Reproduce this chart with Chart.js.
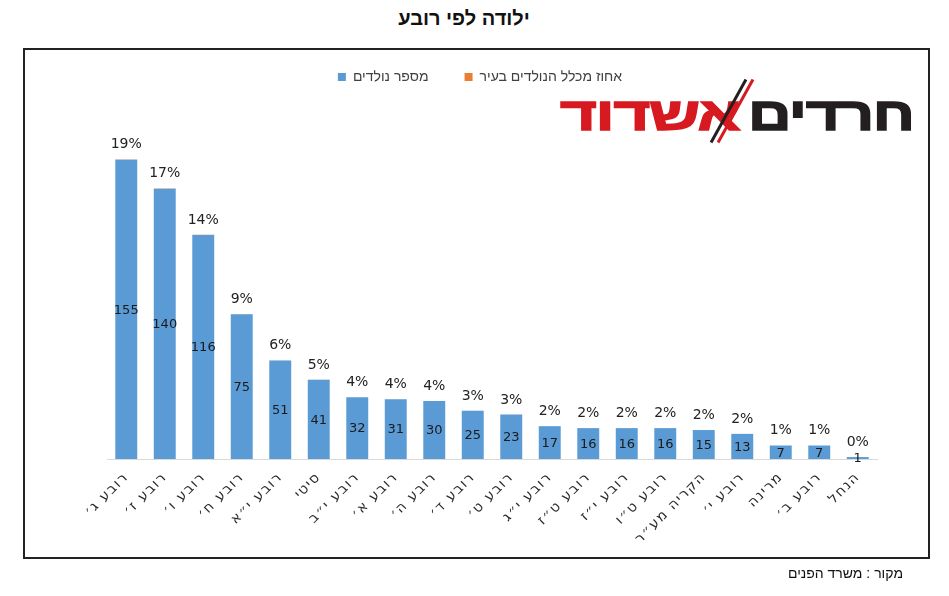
<!DOCTYPE html>
<html lang="he">
<head>
<meta charset="utf-8">
<script src="https://cdn.jsdelivr.net/npm/chart.js@4.4.1/dist/chart.umd.min.js"></script>
<style>
  html,body{margin:0;padding:0;background:#fff;}
  body{width:949px;height:596px;position:relative;overflow:hidden;font-family:"Liberation Sans",Arial,sans-serif;}
  #title{position:absolute;left:0;width:928px;padding-right:21px;top:7px;text-align:center;font-weight:bold;font-size:20px;color:#111;direction:rtl;}
  #frame{position:absolute;left:23px;top:48px;width:903px;height:507px;border:2px solid #222;pointer-events:none;}
  #source{position:absolute;right:46px;top:565px;font-size:14px;color:#111;direction:rtl;}
  #wrap{position:absolute;left:0;top:0;width:949px;height:596px;}
  #logo{position:absolute;left:558px;top:82px;width:360px;height:64px;direction:rtl;}
  .lg{position:absolute;top:4px;font-weight:900;font-size:47px;line-height:56px;font-family:"Liberation Sans",Arial,sans-serif;letter-spacing:-1px;transform-origin:left top;white-space:nowrap;}
  #lg1{left:190px;color:#231f20;transform:scaleX(1.28);-webkit-text-stroke:1.5px #231f20;}
  #lg2{left:2px;color:#d71920;transform:scaleX(1.35);-webkit-text-stroke:1.5px #d71920;}
  .sl{position:absolute;width:3px;height:72px;transform:rotate(29deg);transform-origin:center;}
</style>
</head>
<body>
<div id="title">ילודה לפי רובע</div>
<div id="wrap"><canvas id="c" width="949" height="596"></canvas></div>
<div id="logo">
  <span class="lg" id="lg1">חרדים</span>
  <span class="lg" id="lg2">אשדוד</span>
  <div class="sl" style="left:169px;top:-7px;background:#231f20;"></div>
  <div class="sl" style="left:176px;top:-7px;background:#d71920;"></div>
</div>
<div id="frame"></div>
<div id="source">מקור : משרד הפנים</div>
<script>
const categories = ["רובע ג׳","רובע ז׳","רובע ו׳","רובע ח׳","רובע י״א","סיטי","רובע י״ב","רובע א׳","רובע ה׳","רובע ד׳","רובע ט׳","רובע י״ג","רובע ט״ז","רובע י״ז","רובע ט״ו","הקריה מע״ר","רובע י׳","מרינה","רובע ב׳","הנחל"];
const births = [155,140,116,75,51,41,32,31,30,25,23,17,16,16,16,15,13,7,7,1];
const percentOfCity = [19,17,14,9,6,5,4,4,4,3,3,2,2,2,2,2,2,1,1,0];
const seriesNames = ["מספר נולדים","אחוז מכלל הנולדים בעיר"];

const FONT = '"Liberation Sans", Arial, sans-serif';
const NUMFONT = '"DejaVu Sans", sans-serif';

const labelPlugin = {
  id:'barLabels',
  beforeDraw(chart){
    const sx = chart.scales.x;
    if (sx && !sx._spacedPatch){
      const orig = sx.drawLabels.bind(sx);
      sx.drawLabels = function(area){
        const ctx = this.ctx;
        ctx.save();
        ctx.letterSpacing = '1.5px';
        orig(area);
        ctx.restore();
      };
      sx._spacedPatch = true;
    }
    const lg = chart.legend;
    if (lg && !lg._shiftPatch){
      const origDraw = lg.draw.bind(lg);
      lg.draw = function(){
        const ctx = this.ctx;
        ctx.save();
        ctx.translate(-12, 0);
        origDraw();
        ctx.restore();
      };
      lg._shiftPatch = true;
    }
  },
  afterDatasetsDraw(chart){
    const ctx = chart.ctx;
    const m0 = chart.getDatasetMeta(0), m1 = chart.getDatasetMeta(1);
    ctx.save();
    ctx.textAlign='center';
    ctx.fillStyle='#1a1a1a';
    ctx.font = '13px '+NUMFONT;
    ctx.textBaseline='middle';
    m0.data.forEach((el,i)=>{
      ctx.fillText(String(births[i]), el.x, (el.y+el.base)/2+1);
    });
    ctx.font = '14px '+NUMFONT;
    ctx.fillStyle='#222';
    ctx.textBaseline='alphabetic';
    m1.data.forEach((el,i)=>{
      ctx.fillText(percentOfCity[i]+'%', el.x, el.y-11);
    });
    ctx.restore();
  }
};

new Chart(document.getElementById('c'), {
  type:'bar',
  data:{
    labels: categories,
    datasets:[
      {label:seriesNames[0], data:births, backgroundColor:'#5b9bd5', categoryPercentage:0.6, barPercentage:0.95},
      {label:seriesNames[1], data:percentOfCity.map(p=>p/100), backgroundColor:'#ed7d31', categoryPercentage:0.6, barPercentage:0.95}
    ]
  },
  options:{
    responsive:false,
    animation:false,
    layout:{padding:{left:107,right:72,top:34,bottom:37}},
    plugins:{
      legend:{
        display:true,
        position:'top',
        labels:{boxWidth:8,boxHeight:8,padding:36,color:'#404040',font:{family:FONT,size:14}}
      },
      tooltip:{enabled:false},
      title:{display:false}
    },
    scales:{
      x:{
        stacked:true,
        grid:{display:false},
        border:{display:true,color:'#d9d9d9',width:1},
        ticks:{maxRotation:45,minRotation:45,autoSkip:false,color:'#2a2a2a',font:{family:NUMFONT,size:14},padding:2},
        afterFit(s){ s.height = 100; }
      },
      y:{
        stacked:true,
        display:false,
        min:0,
        max:189
      }
    }
  },
  plugins:[labelPlugin]
});
</script>
</body>
</html>
